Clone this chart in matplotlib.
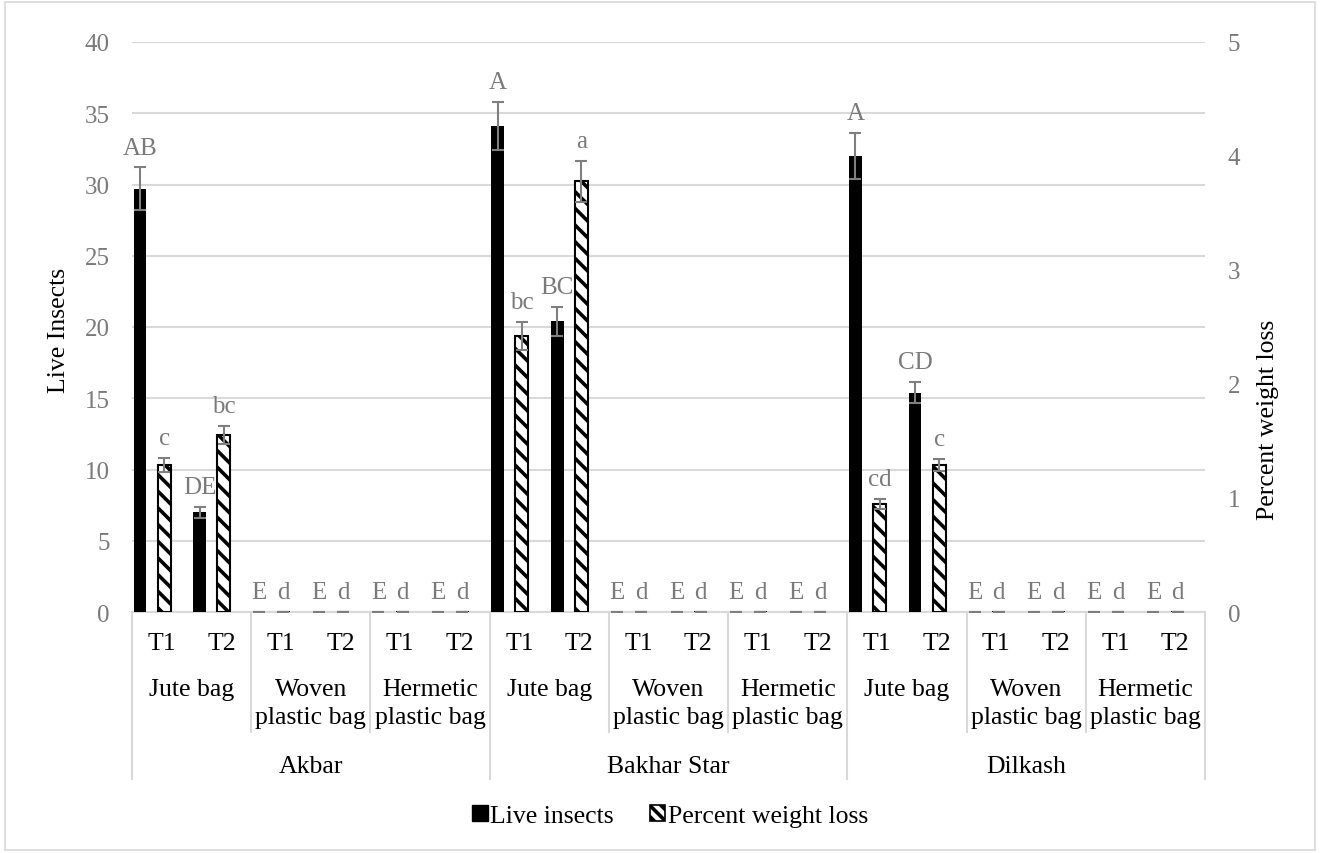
import matplotlib.pyplot as plt
import numpy as np
from matplotlib.lines import Line2D
from matplotlib.patches import Rectangle, Patch
import matplotlib.transforms as mtransforms

plt.rcParams['font.family'] = ['Liberation Serif', 'DejaVu Serif']
plt.rcParams['hatch.linewidth'] = 2.6

# data
varieties = ['Akbar', 'Bakhar Star', 'Dilkash']
bags = ['Jute bag', 'Woven\nplastic bag', 'Hermetic\nplastic bag']
treatments = ['T1', 'T2']

live = [29.7, 7.0, 0, 0, 0, 0,
        34.1, 20.4, 0, 0, 0, 0,
        32.0, 15.4, 0, 0, 0, 0]
live_err = [1.5, 0.4, 0, 0, 0, 0,
            1.7, 1.0, 0, 0, 0, 0,
            1.6, 0.75, 0, 0, 0, 0]
pwl = [1.29, 1.55, 0, 0, 0, 0,
       2.42, 3.78, 0, 0, 0, 0,
       0.95, 1.29, 0, 0, 0, 0]
pwl_err = [0.06, 0.08, 0, 0, 0, 0,
           0.125, 0.18, 0, 0, 0, 0,
           0.044, 0.055, 0, 0, 0, 0]
live_letters = ['AB', 'DE', 'E', 'E', 'E', 'E',
                'A', 'BC', 'E', 'E', 'E', 'E',
                'A', 'CD', 'E', 'E', 'E', 'E']
pwl_letters = ['c', 'bc', 'd', 'd', 'd', 'd',
               'bc', 'a', 'd', 'd', 'd', 'd',
               'cd', 'c', 'd', 'd', 'd', 'd']

W, H = 1320, 854
fig = plt.figure(figsize=(W / 100, H / 100), dpi=100)
fig.patches.append(Rectangle((0.004, 0.003), 0.992, 0.994, transform=fig.transFigure,
                             fill=False, edgecolor='#D9D9D9', linewidth=1.2))

left, right, top, bottom = 132, 1205, 43, 613
ax = fig.add_axes([left / W, (H - bottom) / H, (right - left) / W, (bottom - top) / H])
ax2 = ax.twinx()

n = len(live)
x = np.arange(n)
bw = 0.215
off_live = -0.365
off_pwl = 0.04

grid_c = '#D9D9D9'
tick_c = '#7A7A7A'
err_c = '#7F7F7F'
fs = 18.5

ax.bar(x + off_live, live, width=bw, color='black', zorder=3)
ax.errorbar(x + off_live, live, yerr=live_err, fmt='none', ecolor=err_c,
            elinewidth=1.5, capsize=4.5, capthick=1.5, zorder=4)
ax2.bar(x + off_pwl, pwl, width=bw, color='white', edgecolor='black',
        hatch='\\\\', linewidth=1.5, zorder=3)
ax2.errorbar(x + off_pwl, pwl, yerr=pwl_err, fmt='none', ecolor=err_c,
             elinewidth=1.5, capsize=4.5, capthick=1.5, zorder=4)

ax.set_xlim(-0.5, n - 0.5)
ax.set_ylim(0, 40)
ax2.set_ylim(0, 5)
ax.set_yticks(np.arange(0, 41, 5))
ax2.set_yticks(np.arange(0, 6, 1))
ax.yaxis.grid(True, color=grid_c, linewidth=1.5, zorder=0)
ax.set_axisbelow(True)
ax.set_xticks([])
for a in (ax, ax2):
    for s in a.spines.values():
        s.set_visible(False)
ax.spines['bottom'].set_visible(True)
ax.spines['bottom'].set_color(grid_c)
ax.spines['bottom'].set_linewidth(1.5)
ax.tick_params(axis='y', length=0, pad=16, labelsize=18, labelcolor=tick_c)
ax2.tick_params(axis='y', length=0, pad=16.5, labelsize=18, labelcolor=tick_c)
fig.text(59 / W, 1 - 330 / H, 'Live Insects', rotation=90, ha='center', va='center',
         fontsize=fs)
fig.text(1268 / W, 1 - 420 / H, 'Percent weight loss', rotation=90, ha='center',
         va='center', fontsize=fs)

# significance letters
for i in range(n):
    ax.annotate(live_letters[i], (x[i] + off_live, live[i] + live_err[i]),
                xytext=(0, 10), textcoords='offset points', ha='center',
                va='baseline', fontsize=18, color=tick_c, zorder=5)
    ax2.annotate(pwl_letters[i], (x[i] + off_pwl, pwl[i] + pwl_err[i]),
                 xytext=(0, 10), textcoords='offset points', ha='center',
                 va='baseline', fontsize=18, color=tick_c, zorder=5)

# hierarchical category axis
trans = mtransforms.blended_transform_factory(ax.transData, ax.transAxes)
def yf(ypix):
    return (bottom - ypix) / (bottom - top)

for i in range(n):
    ax.text(x[i], yf(644), treatments[i % 2], transform=trans, ha='center',
            va='center', fontsize=fs)
for k in range(n // 2):
    ax.text(2 * k + 0.5, yf(679), bags[k % 3], transform=trans, ha='center',
            va='top', fontsize=fs, linespacing=1.36)
for v in range(3):
    ax.text(6 * v + 2.5, yf(767), varieties[v], transform=trans, ha='center',
            va='center', fontsize=fs)

for k in range(n // 2 + 1):
    xb = 2 * k - 0.5
    y_end = 780 if k % 3 == 0 else 733
    ax.add_line(Line2D([xb, xb], [0, yf(y_end)], transform=trans, color=grid_c,
                       linewidth=1.5, clip_on=False))

handles = [Patch(facecolor='black', edgecolor='black', label='Live insects'),
           Patch(facecolor='white', edgecolor='black', hatch='\\\\\\', linewidth=1.2,
                 label='Percent weight loss')]
fig.legend(handles=handles, loc='center', bbox_to_anchor=(670 / W, 1 - 817 / H), ncol=2,
           frameon=False, fontsize=fs, handlelength=0.6, handleheight=0.6,
           handletextpad=0.1, columnspacing=1.4, borderpad=0)

fig.savefig('out.png', dpi=100)
